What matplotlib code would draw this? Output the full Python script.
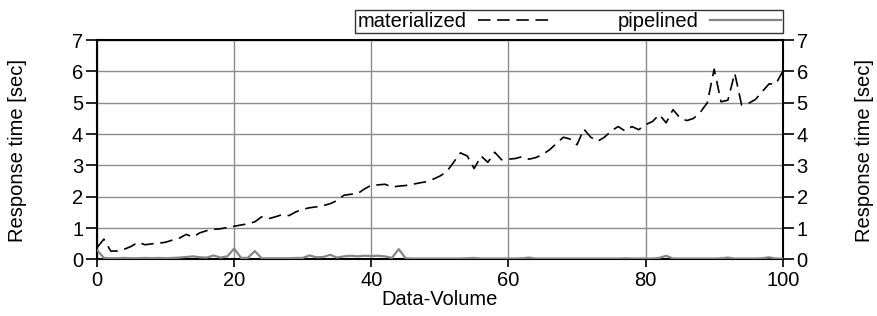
import matplotlib
matplotlib.use("Agg")
import matplotlib.pyplot as plt
import numpy as np

x_values = list(range(0, 101))
materialized = [
    0.38, 0.65, 0.27, 0.27, 0.33, 0.42, 0.55, 0.47, 0.50, 0.52,
    0.55, 0.62, 0.68, 0.80, 0.72, 0.85, 0.92, 0.96, 0.98, 1.02,
    1.06, 1.10, 1.14, 1.20, 1.36, 1.30, 1.36, 1.43, 1.40, 1.52,
    1.60, 1.65, 1.68, 1.72, 1.78, 1.88, 2.05, 2.08, 2.10, 2.25,
    2.37, 2.38, 2.40, 2.31, 2.34, 2.36, 2.40, 2.44, 2.48, 2.56,
    2.66, 2.80, 3.10, 3.40, 3.30, 2.90, 3.30, 3.10, 3.42, 3.18,
    3.20, 3.22, 3.28, 3.20, 3.25, 3.35, 3.50, 3.70, 3.90, 3.84,
    3.66, 4.16, 3.90, 3.77, 3.90, 4.10, 4.24, 4.10, 4.24, 4.14,
    4.30, 4.40, 4.62, 4.36, 4.78, 4.52, 4.43, 4.50, 4.70, 5.00,
    6.07, 5.03, 5.08, 5.94, 4.93, 4.98, 5.10, 5.35, 5.60, 5.60,
    6.00,
]
pipelined = [
    0.30, 0.05, 0.04, 0.04, 0.05, 0.04, 0.04, 0.05, 0.04, 0.05,
    0.04, 0.05, 0.06, 0.08, 0.10, 0.07, 0.06, 0.13, 0.06, 0.10,
    0.35, 0.05, 0.05, 0.27, 0.04, 0.04, 0.04, 0.04, 0.04, 0.05,
    0.05, 0.13, 0.07, 0.08, 0.15, 0.06, 0.10, 0.12, 0.10, 0.12,
    0.11, 0.12, 0.10, 0.05, 0.33, 0.04, 0.03, 0.03, 0.03, 0.03,
    0.03, 0.03, 0.03, 0.03, 0.04, 0.05, 0.03, 0.03, 0.03, 0.03,
    0.03, 0.03, 0.04, 0.06, 0.03, 0.03, 0.03, 0.03, 0.03, 0.03,
    0.03, 0.03, 0.03, 0.03, 0.03, 0.03, 0.03, 0.04, 0.03, 0.03,
    0.03, 0.03, 0.05, 0.12, 0.03, 0.03, 0.03, 0.03, 0.03, 0.03,
    0.03, 0.04, 0.06, 0.03, 0.03, 0.03, 0.03, 0.04, 0.07, 0.03,
    0.03,
]
x_ticks = [0, 20, 40, 60, 80, 100]
y_ticks = [0, 1, 2, 3, 4, 5, 6, 7]
y_label = 'Response time [sec]'
x_label = 'Data-Volume'

plt.rcParams['font.family'] = ['Liberation Sans', 'DejaVu Sans']
fs = 14.5

fig = plt.figure(figsize=(8.78, 3.16), dpi=100)
ax = fig.add_axes([0.1105, 0.1788, 0.781, 0.6946])

ax.plot(x_values, materialized, color='black', lw=1.2, dashes=(7.5, 4),
        label='materialized', zorder=3)
ax.plot(x_values, pipelined, color='#858585', lw=1.6,
        label='pipelined', zorder=3)

ax.set_xlim(0, 100)
ax.set_ylim(0, 7)
ax.set_xticks(x_ticks)
ax.set_yticks(y_ticks)
ax.grid(True, color='#8c8c8c', lw=1.0, zorder=0)
for s in ax.spines.values():
    s.set_linewidth(1.5)
    s.set_color('black')

ax.tick_params(axis='both', labelsize=fs, direction='out', length=6, width=1.2,
               right=True, labelright=True, pad=2)
ax.tick_params(axis='y', length=8)

ax.set_xlabel(x_label, fontsize=fs, labelpad=0)
fig.text(18 / 878, 0.525, y_label, fontsize=fs, rotation=90,
         ha='center', va='center')
fig.text(865 / 878, 0.525, y_label, fontsize=fs, rotation=90,
         ha='center', va='center')

leg = ax.legend(loc='lower right', bbox_to_anchor=(1.0, 1.03), ncol=2,
                markerfirst=False, frameon=True, fancybox=False,
                fontsize=fs, handlelength=3.5, columnspacing=3.4,
                borderpad=0.1, handletextpad=0.6, borderaxespad=0.0)
leg.get_frame().set_edgecolor('black')
leg.get_frame().set_linewidth(1.0)

fig.savefig('out.png', dpi=100)
